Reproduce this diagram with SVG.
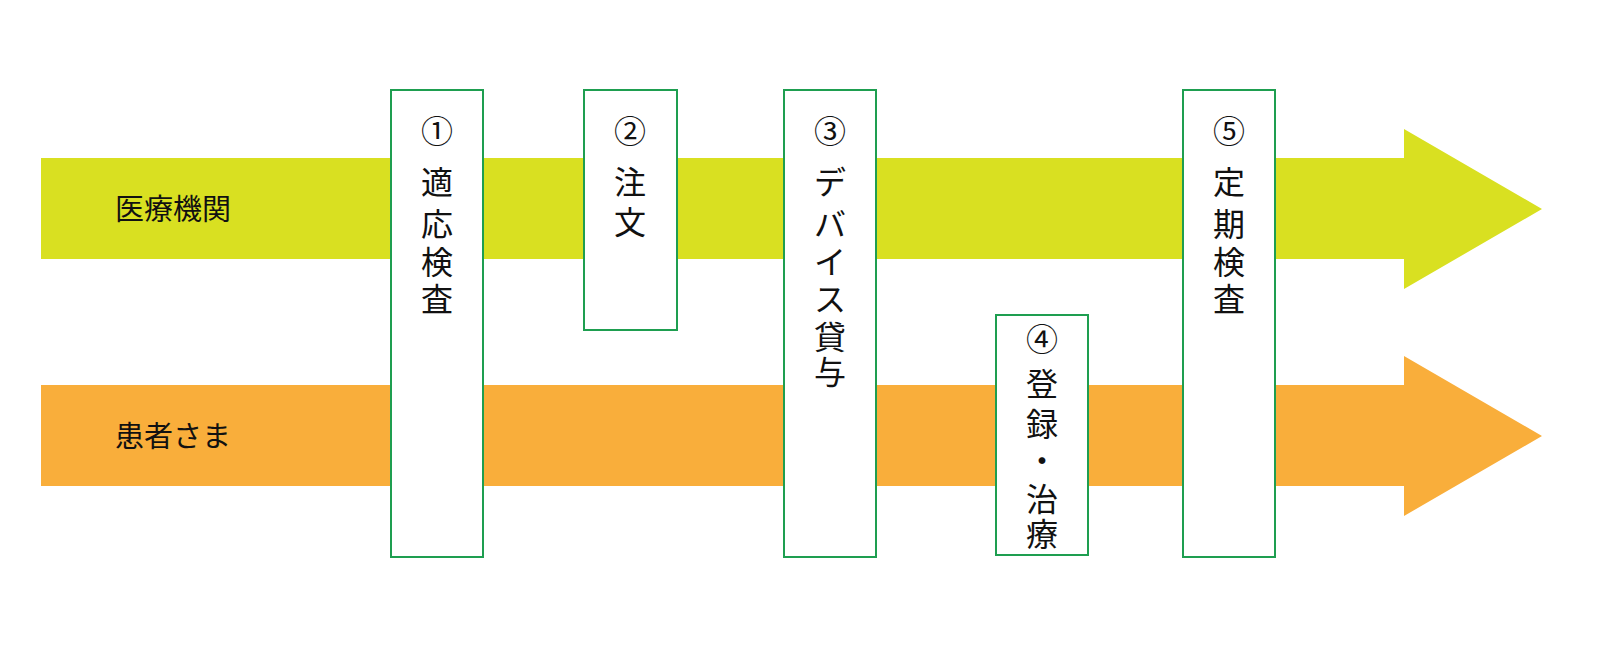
<svg xmlns="http://www.w3.org/2000/svg" width="1600" height="660" viewBox="0 0 1600 660">
<style>
.box{fill:#fff;stroke:#1e9e50;stroke-width:2}
text{font-family:"Noto Sans CJK JP",sans-serif;fill:#111;font-size:32px;text-anchor:middle}
.lab{font-size:29px;text-anchor:start}
</style>
<rect width="1600" height="660" fill="#fff"/>
<g id="connectors">
<polygon fill="#d9e021" points="41,158 1404,158 1404,129 1542,209 1404,289 1404,259 41,259"/>
<polygon fill="#f9ae3b" points="41,385 1404,385 1404,356 1542,436 1404,516 1404,486 41,486"/>
</g>
<g id="n-iryo"><text class="lab" x="115" y="220">医療機関</text></g>
<g id="n-kanja"><text class="lab" x="115" y="447">患者さま</text></g>
<g id="n1"><rect class="box" x="391" y="90" width="92" height="467"/>
<text x="437"><tspan x="437" y="143">①</tspan><tspan x="437" y="194">適</tspan><tspan x="437" y="236">応</tspan><tspan x="437" y="274">検</tspan><tspan x="437" y="311">査</tspan></text></g>
<g id="n2"><rect class="box" x="584" y="90" width="93" height="240"/>
<text><tspan x="630" y="143">②</tspan><tspan x="630" y="194">注</tspan><tspan x="630" y="234">文</tspan></text></g>
<g id="n3"><rect class="box" x="784" y="90" width="92" height="467"/>
<text><tspan x="830" y="143">③</tspan><tspan x="830" y="194">デ</tspan><tspan x="830" y="236">バ</tspan><tspan x="830" y="274">イ</tspan><tspan x="830" y="311">ス</tspan><tspan x="830" y="349">貸</tspan><tspan x="830" y="384">与</tspan></text></g>
<g id="n4"><rect class="box" x="996" y="315" width="92" height="240"/>
<text><tspan x="1042" y="351">④</tspan><tspan x="1042" y="396">登</tspan><tspan x="1042" y="436">録</tspan><tspan x="1042" y="473">・</tspan><tspan x="1042" y="511">治</tspan><tspan x="1042" y="546">療</tspan></text></g>
<g id="n5"><rect class="box" x="1183" y="90" width="92" height="467"/>
<text><tspan x="1229" y="143">⑤</tspan><tspan x="1229" y="194">定</tspan><tspan x="1229" y="236">期</tspan><tspan x="1229" y="274">検</tspan><tspan x="1229" y="311">査</tspan></text></g>
</svg>
